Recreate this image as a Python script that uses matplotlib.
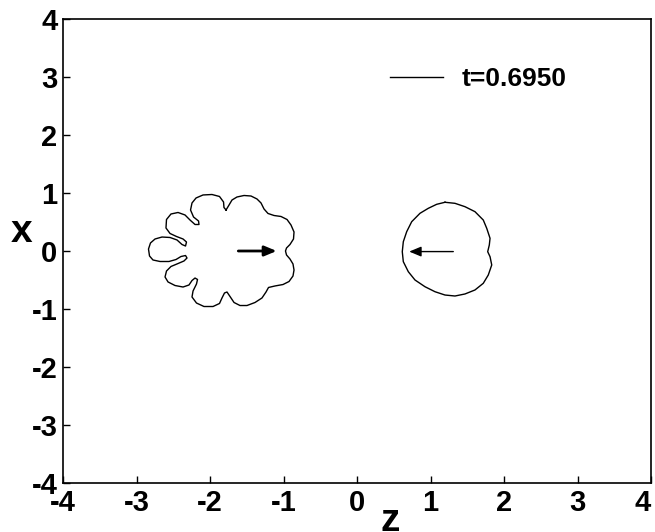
import numpy as np
import matplotlib
matplotlib.use('Agg')
import matplotlib.pyplot as plt

# contour of the fingered bubble (left)
left_z = [-1.782, -1.741, -1.701, -1.633, -1.537, -1.442, -1.361, -1.306, -1.265, -1.211,
          -1.129, -1.034, -0.952, -0.898, -0.857, -0.864, -0.912, -0.959, -0.973, -0.959,
          -0.912, -0.871, -0.857, -0.871, -0.925, -1.007, -1.116, -1.204, -1.238, -1.293,
          -1.388, -1.497, -1.592, -1.673, -1.728, -1.769, -1.803, -1.837, -1.871, -1.959,
          -2.082, -2.184, -2.245, -2.231, -2.184, -2.170, -2.204, -2.245, -2.286, -2.367,
          -2.476, -2.571, -2.612, -2.592, -2.531, -2.435, -2.354, -2.313, -2.333, -2.395,
          -2.463, -2.558, -2.680, -2.776, -2.823, -2.837, -2.810, -2.748, -2.653, -2.544,
          -2.449, -2.381, -2.333, -2.320, -2.367, -2.456, -2.544, -2.599, -2.592, -2.531,
          -2.435, -2.340, -2.272, -2.204, -2.150, -2.156, -2.224, -2.265, -2.245, -2.190,
          -2.095, -1.973, -1.871, -1.816, -1.810]
left_x = [0.707, 0.793, 0.879, 0.931, 0.957, 0.948, 0.897, 0.828, 0.724, 0.647,
          0.612, 0.595, 0.543, 0.448, 0.328, 0.207, 0.112, 0.052, 0.000, -0.069,
          -0.138, -0.224, -0.328, -0.431, -0.526, -0.578, -0.603, -0.629, -0.707, -0.810,
          -0.888, -0.940, -0.940, -0.888, -0.784, -0.707, -0.724, -0.810, -0.905, -0.957,
          -0.957, -0.897, -0.793, -0.690, -0.569, -0.491, -0.466, -0.509, -0.586, -0.621,
          -0.595, -0.534, -0.448, -0.345, -0.267, -0.216, -0.172, -0.121, -0.078, -0.095,
          -0.147, -0.181, -0.181, -0.155, -0.086, 0.034, 0.138, 0.207, 0.241, 0.233,
          0.190, 0.112, 0.086, 0.155, 0.207, 0.250, 0.302, 0.397, 0.543, 0.638,
          0.664, 0.621, 0.534, 0.457, 0.457, 0.517, 0.586, 0.707, 0.828, 0.914,
          0.966, 0.974, 0.940, 0.845, 0.750]

# contour of the nearly round bubble (right)
right_z = [1.197, 1.333, 1.469, 1.605, 1.718, 1.765, 1.810, 1.800, 1.778, 1.810,
           1.833, 1.786, 1.718, 1.605, 1.469, 1.333, 1.197, 1.061, 0.925, 0.789,
           0.698, 0.630, 0.616, 0.630, 0.676, 0.744, 0.857, 0.970, 1.084]
right_x = [0.840, 0.822, 0.764, 0.678, 0.534, 0.391, 0.219, 0.103, -0.012, -0.098,
           -0.241, -0.414, -0.557, -0.672, -0.741, -0.776, -0.759, -0.702, -0.616, -0.500,
           -0.357, -0.184, -0.012, 0.160, 0.333, 0.505, 0.650, 0.736, 0.805]

# velocity arrows (start z, end z, x)
arrow_left = (-1.615, -1.093, 0.0)
arrow_right = (1.31, 0.71, -0.01)

label = 't=0.6950'
ticks = [-4, -3, -2, -1, 0, 1, 2, 3, 4]

plt.rcParams['font.family'] = ['Liberation Sans', 'DejaVu Sans']
plt.rcParams['font.weight'] = 'bold'
plt.rcParams['axes.unicode_minus'] = False

fig = plt.figure(figsize=(6.55, 5.32), dpi=100)
ax = fig.add_axes([0.0962, 0.0921, 0.8977, 0.8722])

ax.plot(np.append(left_z, left_z[0]), np.append(left_x, left_x[0]), color='black', lw=1.0, label=label)
ax.plot(np.append(right_z, right_z[0]), np.append(right_x, right_x[0]), color='black', lw=1.0)

ax.annotate('', xy=(arrow_left[1], arrow_left[2]), xytext=(arrow_left[0], arrow_left[2]),
            arrowprops=dict(arrowstyle='-|>,head_length=0.6,head_width=0.25', color='black',
                            lw=2.0, mutation_scale=12, shrinkA=0, shrinkB=0))
ax.annotate('', xy=(arrow_right[1], arrow_right[2]), xytext=(arrow_right[0], arrow_right[2]),
            arrowprops=dict(arrowstyle='-|>,head_length=0.6,head_width=0.25', color='black',
                            lw=1.0, mutation_scale=12, shrinkA=0, shrinkB=0))

ax.set_xlim(-4, 4)
ax.set_ylim(-4, 4)
ax.set_xticks(ticks)
ax.set_yticks(ticks)
ax.tick_params(direction='in', length=5, width=1, labelsize=21, pad=4)
for s in ax.spines.values():
    s.set_linewidth(1.2)

# keep the last x tick label inside the figure, as in the original
fig.canvas.draw()
ax.get_xticklabels()[-1].set_ha('right')

ax.set_xlabel('z', fontsize=28, fontweight='bold')
ax.xaxis.label.set_va('baseline')
ax.xaxis.set_label_coords(0.556, -0.104)
ax.set_ylabel('x', fontsize=28, fontweight='bold', rotation=0, ha='center', va='center')
ax.yaxis.set_label_coords(-0.070, 0.541)

ax.legend(loc='center left', bbox_to_anchor=(0.556, 0.871), frameon=False, fontsize=19,
          handlelength=2.0, handletextpad=0.7, borderpad=0, borderaxespad=0)

plt.savefig('out.png', dpi=100)
plt.close()
